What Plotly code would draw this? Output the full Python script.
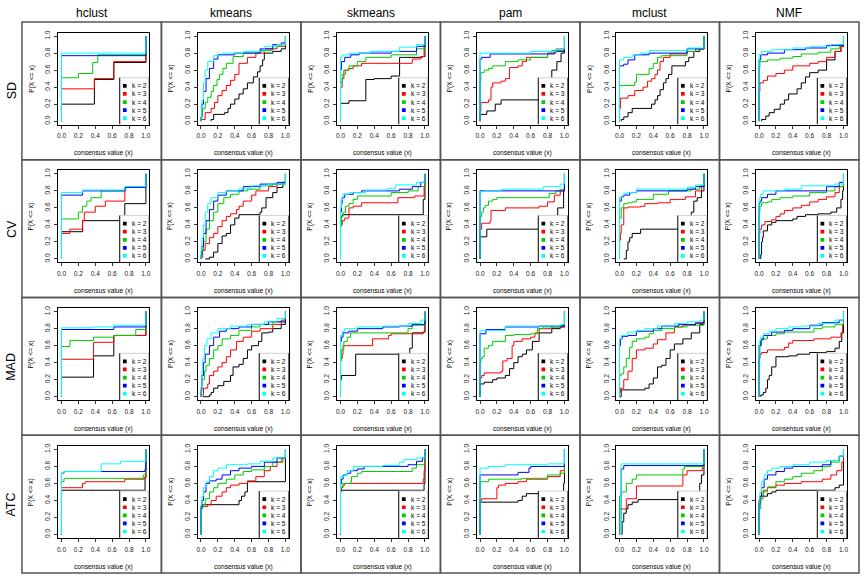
import plotly.graph_objects as go

METHODS = ["hclust", "kmeans", "skmeans", "pam", "mclust", "NMF"]
ROWS = ["SD", "CV", "MAD", "ATC"]
K_LABELS = ["k = 2", "k = 3", "k = 4", "k = 5", "k = 6"]
COLORS = ["#000000", "#FF0000", "#00CD00", "#0000FF", "#00FFFF"]
X_TICKS = [0.0, 0.2, 0.4, 0.6, 0.8, 1.0]
TICK_TEXT = ["0.0", "0.2", "0.4", "0.6", "0.8", "1.0"]

# each curve: list of [x, F(x)] steps (ECDF of consensus values), k = 2..6
SD_hclust = [
    [[0, 0.2], [0.39, 0.49], [0.62, 0.69], [1, 1]],
    [[0, 0.38], [0.39, 0.5], [0.62, 0.7], [1, 1]],
    [[0, 0.51], [0.2, 0.56], [0.37, 0.69], [0.43, 0.78], [1, 1]],
    [[0, 0.77], [1, 1]],
    [[0, 0.8], [1, 1]],
]
SD_kmeans = [
    [[0.12, 0.02], [0.15, 0.08], [0.28, 0.1], [0.32, 0.15], [0.35, 0.2], [0.4, 0.26], [0.45, 0.32], [0.5, 0.38],
     [0.55, 0.45], [0.62, 0.52], [0.67, 0.58], [0.7, 0.65], [0.73, 0.72], [0.75, 0.8], [0.85, 0.82], [0.95, 0.85], [1, 1]],
    [[0, 0.02], [0.05, 0.1], [0.12, 0.15], [0.16, 0.22], [0.2, 0.3], [0.25, 0.36], [0.3, 0.42], [0.35, 0.48],
     [0.4, 0.55], [0.45, 0.68], [0.55, 0.75], [0.65, 0.8], [0.75, 0.85], [0.9, 0.88], [1, 1]],
    [[0, 0.05], [0.02, 0.15], [0.05, 0.22], [0.08, 0.28], [0.12, 0.35], [0.15, 0.42], [0.19, 0.49], [0.22, 0.55],
     [0.26, 0.62], [0.3, 0.68], [0.38, 0.76], [0.5, 0.8], [0.7, 0.83], [0.85, 0.88], [0.95, 0.9], [1, 1]],
    [[0, 0.05], [0.01, 0.2], [0.03, 0.35], [0.06, 0.5], [0.1, 0.62], [0.15, 0.73], [0.2, 0.78], [0.4, 0.8],
     [0.7, 0.85], [0.85, 0.9], [0.95, 0.92], [1, 1]],
    [[0, 0.05], [0.01, 0.25], [0.03, 0.45], [0.05, 0.6], [0.08, 0.7], [0.15, 0.77], [0.25, 0.8], [0.5, 0.82],
     [0.75, 0.88], [0.9, 0.9], [1, 1]],
]
SD_skmeans = [
    [[0, 0.21], [0.1, 0.24], [0.3, 0.49], [0.4, 0.5], [0.6, 0.53], [0.7, 0.75], [0.97, 0.76], [1, 1]],
    [[0, 0.4], [0.02, 0.5], [0.04, 0.6], [0.1, 0.62], [0.15, 0.65], [0.25, 0.68], [0.85, 0.73], [0.95, 0.76], [0.99, 0.9], [1, 1]],
    [[0, 0.45], [0.02, 0.55], [0.06, 0.6], [0.1, 0.65], [0.2, 0.7], [0.3, 0.75], [0.6, 0.78], [0.9, 0.85], [1, 1]],
    [[0, 0.6], [0.01, 0.7], [0.05, 0.75], [0.12, 0.78], [0.22, 0.8], [0.6, 0.82], [0.9, 0.88], [1, 1]],
    [[0, 0.75], [0.02, 0.78], [0.1, 0.8], [0.35, 0.82], [0.7, 0.87], [0.9, 0.9], [1, 1]],
]
SD_pam = [
    [[0, 0.08], [0.08, 0.12], [0.18, 0.2], [0.25, 0.25], [0.8, 0.5], [0.85, 0.6], [0.91, 0.7], [0.96, 0.8], [1, 1]],
    [[0, 0.12], [0.01, 0.22], [0.1, 0.25], [0.13, 0.4], [0.15, 0.45], [0.25, 0.47], [0.3, 0.5], [0.35, 0.63],
     [0.45, 0.65], [0.5, 0.7], [0.55, 0.75], [0.8, 0.8], [0.9, 0.85], [1, 1]],
    [[0, 0.47], [0.01, 0.57], [0.05, 0.6], [0.1, 0.62], [0.15, 0.65], [0.3, 0.7], [0.45, 0.72], [0.6, 0.75],
     [0.8, 0.8], [0.85, 0.83], [1, 1]],
    [[0, 0.73], [0.02, 0.75], [0.12, 0.79], [0.88, 0.82], [1, 1]],
    [[0, 0.8], [0.6, 0.82], [0.9, 0.85], [1, 1]],
]
SD_mclust = [
    [[0.02, 0.02], [0.05, 0.05], [0.1, 0.1], [0.15, 0.15], [0.38, 0.2], [0.42, 0.25], [0.45, 0.3], [0.48, 0.37],
     [0.52, 0.45], [0.55, 0.5], [0.58, 0.55], [0.62, 0.65], [0.78, 0.7], [0.82, 0.75], [0.88, 0.82], [0.95, 0.85], [1, 1]],
    [[0, 0.15], [0.01, 0.27], [0.1, 0.3], [0.18, 0.36], [0.28, 0.4], [0.33, 0.47], [0.38, 0.5], [0.42, 0.55],
     [0.45, 0.6], [0.48, 0.7], [0.52, 0.75], [0.6, 0.79], [0.8, 0.82], [0.9, 0.85], [1, 1]],
    [[0, 0.42], [0.18, 0.46], [0.2, 0.55], [0.35, 0.62], [0.4, 0.68], [0.45, 0.75], [0.5, 0.77], [0.8, 0.82], [0.9, 0.85], [1, 1]],
    [[0, 0.65], [0.05, 0.67], [0.1, 0.72], [0.18, 0.78], [0.35, 0.8], [0.8, 0.85], [1, 1]],
    [[0, 0.72], [0.05, 0.75], [0.15, 0.78], [0.25, 0.8], [0.35, 0.83], [0.8, 0.86], [1, 1]],
]
SD_NMF = [
    [[0.03, 0.02], [0.08, 0.06], [0.12, 0.1], [0.18, 0.14], [0.25, 0.2], [0.3, 0.25], [0.35, 0.32], [0.45, 0.38],
     [0.5, 0.45], [0.55, 0.52], [0.6, 0.57], [0.7, 0.6], [0.8, 0.72], [0.9, 0.82], [0.97, 0.88], [1, 1]],
    [[0, 0.35], [0.01, 0.45], [0.05, 0.48], [0.1, 0.53], [0.2, 0.56], [0.3, 0.6], [0.4, 0.65], [0.6, 0.68],
     [0.7, 0.7], [0.8, 0.75], [0.9, 0.82], [0.97, 0.88], [1, 1]],
    [[0, 0.62], [0.01, 0.7], [0.1, 0.72], [0.25, 0.74], [0.4, 0.76], [0.5, 0.79], [0.7, 0.81], [0.85, 0.85], [0.95, 0.9], [1, 1]],
    [[0, 0.72], [0.02, 0.78], [0.1, 0.8], [0.3, 0.84], [0.55, 0.86], [0.8, 0.89], [1, 1]],
    [[0, 0.78], [0.03, 0.82], [0.15, 0.84], [0.4, 0.86], [0.6, 0.88], [0.85, 0.9], [1, 1]],
]

CV_hclust = [
    [[0, 0.32], [0.25, 0.45], [0.75, 0.65], [1, 1]],
    [[0, 0.3], [0.1, 0.35], [0.25, 0.45], [0.27, 0.55], [0.4, 0.62], [0.52, 0.68], [0.75, 0.8], [0.76, 0.85], [1, 1]],
    [[0, 0.47], [0.2, 0.55], [0.25, 0.62], [0.3, 0.68], [0.35, 0.72], [0.47, 0.8], [0.75, 0.84], [1, 1]],
    [[0, 0.75], [0.25, 0.8], [0.75, 0.84], [1, 1]],
    [[0, 0.78], [0.25, 0.81], [0.75, 0.85], [1, 1]],
]
CV_kmeans = [
    [[0.05, 0.0], [0.1, 0.02], [0.15, 0.08], [0.2, 0.18], [0.25, 0.27], [0.3, 0.3], [0.35, 0.4], [0.4, 0.48],
     [0.45, 0.52], [0.7, 0.55], [0.72, 0.6], [0.77, 0.72], [0.85, 0.78], [0.9, 0.84], [0.97, 0.9], [1, 1]],
    [[0, 0.02], [0.02, 0.1], [0.05, 0.18], [0.1, 0.25], [0.15, 0.3], [0.2, 0.38], [0.25, 0.45], [0.3, 0.5],
     [0.35, 0.53], [0.42, 0.58], [0.45, 0.62], [0.5, 0.68], [0.6, 0.75], [0.65, 0.8], [0.8, 0.85], [0.9, 0.88], [1, 1]],
    [[0, 0.02], [0.01, 0.1], [0.03, 0.2], [0.06, 0.35], [0.1, 0.45], [0.15, 0.55], [0.2, 0.65], [0.27, 0.72],
     [0.35, 0.76], [0.45, 0.8], [0.55, 0.82], [0.7, 0.86], [0.85, 0.88], [1, 1]],
    [[0, 0.05], [0.01, 0.15], [0.03, 0.3], [0.06, 0.45], [0.1, 0.58], [0.15, 0.68], [0.2, 0.75], [0.3, 0.8],
     [0.5, 0.85], [0.7, 0.88], [0.9, 0.9], [1, 1]],
    [[0, 0.1], [0.01, 0.25], [0.03, 0.4], [0.05, 0.55], [0.08, 0.65], [0.12, 0.72], [0.2, 0.78], [0.3, 0.8],
     [0.45, 0.83], [0.6, 0.86], [0.8, 0.88], [1, 1]],
]
CV_skmeans = [
    [[0, 0.4], [0.01, 0.5], [0.02, 0.52], [0.98, 0.7], [1, 1]],
    [[0, 0.4], [0.02, 0.45], [0.05, 0.48], [0.1, 0.6], [0.15, 0.62], [0.25, 0.66], [0.68, 0.72], [0.88, 0.74], [0.99, 0.85], [1, 1]],
    [[0, 0.38], [0.01, 0.5], [0.03, 0.55], [0.06, 0.62], [0.1, 0.65], [0.15, 0.7], [0.2, 0.74], [0.6, 0.78],
     [0.8, 0.8], [0.92, 0.85], [1, 1]],
    [[0, 0.55], [0.01, 0.65], [0.02, 0.72], [0.05, 0.76], [0.15, 0.78], [0.25, 0.8], [0.7, 0.82], [0.85, 0.85], [0.95, 0.9], [1, 1]],
    [[0, 0.6], [0.01, 0.7], [0.03, 0.76], [0.1, 0.78], [0.3, 0.81], [0.55, 0.83], [0.65, 0.87], [0.9, 0.9], [1, 1]],
]
CV_pam = [
    [[0, 0.26], [0.08, 0.35], [0.92, 0.6], [0.99, 0.8], [1, 1]],
    [[0, 0.35], [0.02, 0.42], [0.12, 0.45], [0.13, 0.57], [0.3, 0.6], [0.7, 0.62], [0.8, 0.67], [0.88, 0.75], [0.95, 0.8], [1, 1]],
    [[0, 0.5], [0.02, 0.55], [0.04, 0.6], [0.06, 0.63], [0.1, 0.68], [0.15, 0.7], [0.2, 0.72], [0.82, 0.77],
     [0.9, 0.8], [0.95, 0.82], [1, 1]],
    [[0, 0.8], [1, 1]],
    [[0, 0.79], [0.05, 0.8], [0.25, 0.82], [0.75, 0.85], [0.95, 0.88], [1, 1]],
]
CV_mclust = [
    [[0.05, 0.0], [0.08, 0.1], [0.1, 0.2], [0.12, 0.25], [0.15, 0.3], [0.25, 0.35], [0.85, 0.55], [0.88, 0.68],
     [0.92, 0.72], [0.97, 0.8], [1, 1]],
    [[0, 0.22], [0.01, 0.3], [0.02, 0.4], [0.05, 0.6], [0.1, 0.61], [0.25, 0.62], [0.3, 0.65], [0.45, 0.66],
     [0.6, 0.7], [0.78, 0.73], [0.9, 0.8], [0.97, 0.85], [1, 1]],
    [[0, 0.48], [0.02, 0.6], [0.05, 0.65], [0.1, 0.66], [0.15, 0.67], [0.2, 0.7], [0.4, 0.76], [0.58, 0.8],
     [0.85, 0.82], [0.95, 0.86], [1, 1]],
    [[0, 0.68], [0.02, 0.73], [0.05, 0.75], [0.12, 0.78], [0.2, 0.8], [0.8, 0.82], [0.9, 0.85], [1, 1]],
    [[0, 0.72], [0.02, 0.74], [0.05, 0.77], [0.1, 0.78], [0.2, 0.82], [0.8, 0.84], [0.9, 0.87], [1, 1]],
]
CV_NMF = [
    [[0.02, 0.05], [0.03, 0.2], [0.04, 0.25], [0.05, 0.33], [0.1, 0.4], [0.15, 0.43], [0.2, 0.45], [0.4, 0.47],
     [0.45, 0.5], [0.55, 0.52], [0.7, 0.53], [0.85, 0.55], [0.92, 0.6], [0.97, 0.7], [0.99, 0.8], [1, 1]],
    [[0, 0.3], [0.01, 0.35], [0.03, 0.4], [0.07, 0.44], [0.15, 0.46], [0.2, 0.5], [0.25, 0.53], [0.3, 0.57],
     [0.4, 0.6], [0.5, 0.63], [0.6, 0.67], [0.7, 0.7], [0.8, 0.73], [0.9, 0.78], [0.95, 0.85], [1, 1]],
    [[0, 0.55], [0.01, 0.62], [0.03, 0.66], [0.1, 0.67], [0.15, 0.7], [0.25, 0.72], [0.4, 0.74], [0.6, 0.78],
     [0.8, 0.8], [0.9, 0.85], [1, 1]],
    [[0, 0.65], [0.01, 0.68], [0.03, 0.72], [0.1, 0.76], [0.2, 0.8], [0.8, 0.85], [0.95, 0.9], [1, 1]],
    [[0, 0.72], [0.02, 0.76], [0.05, 0.8], [0.3, 0.82], [0.5, 0.86], [0.9, 0.88], [1, 1]],
]

MAD_hclust = [
    [[0, 0.23], [0.38, 0.48], [0.62, 0.72], [1, 1]],
    [[0, 0.44], [0.38, 0.64], [0.62, 0.72], [1, 1]],
    [[0, 0.59], [0.1, 0.66], [0.38, 0.7], [0.62, 0.72], [0.88, 0.79], [1, 1]],
    [[0, 0.79], [0.62, 0.82], [1, 1]],
    [[0, 0.81], [0.38, 0.82], [0.62, 0.84], [1, 1]],
]
MAD_kmeans = [
    [[0.02, 0.0], [0.1, 0.02], [0.12, 0.05], [0.15, 0.1], [0.2, 0.13], [0.27, 0.18], [0.35, 0.25], [0.38, 0.35],
     [0.45, 0.38], [0.5, 0.45], [0.55, 0.55], [0.6, 0.6], [0.68, 0.65], [0.72, 0.75], [0.8, 0.76], [0.85, 0.8], [0.95, 0.85], [1, 1]],
    [[0, 0.02], [0.03, 0.1], [0.08, 0.15], [0.1, 0.25], [0.15, 0.3], [0.2, 0.35], [0.25, 0.4], [0.3, 0.47],
     [0.35, 0.55], [0.42, 0.65], [0.5, 0.7], [0.6, 0.77], [0.7, 0.8], [0.85, 0.85], [0.95, 0.9], [1, 1]],
    [[0, 0.05], [0.01, 0.2], [0.04, 0.3], [0.06, 0.37], [0.1, 0.45], [0.15, 0.55], [0.2, 0.6], [0.25, 0.68],
     [0.35, 0.72], [0.45, 0.78], [0.6, 0.82], [0.7, 0.85], [0.85, 0.88], [1, 1]],
    [[0, 0.08], [0.01, 0.25], [0.03, 0.4], [0.05, 0.5], [0.1, 0.6], [0.15, 0.7], [0.22, 0.77], [0.3, 0.8],
     [0.45, 0.82], [0.6, 0.85], [0.8, 0.88], [1, 1]],
    [[0, 0.12], [0.01, 0.3], [0.02, 0.45], [0.04, 0.6], [0.07, 0.68], [0.12, 0.75], [0.2, 0.8], [0.35, 0.83],
     [0.55, 0.85], [0.75, 0.88], [0.9, 0.92], [1, 1]],
]
MAD_skmeans = [
    [[0, 0.2], [0.01, 0.25], [0.18, 0.5], [0.82, 0.57], [0.85, 0.75], [0.98, 0.76], [1, 1]],
    [[0, 0.45], [0.02, 0.5], [0.03, 0.6], [0.38, 0.68], [0.57, 0.72], [0.6, 0.74], [0.98, 0.76], [1, 1]],
    [[0, 0.42], [0.01, 0.55], [0.04, 0.65], [0.08, 0.7], [0.12, 0.75], [0.8, 0.8], [0.85, 0.84], [1, 1]],
    [[0, 0.65], [0.01, 0.7], [0.03, 0.75], [0.1, 0.77], [0.2, 0.8], [0.5, 0.82], [0.7, 0.83], [0.85, 0.85], [1, 1]],
    [[0, 0.72], [0.02, 0.77], [0.05, 0.8], [0.2, 0.82], [0.5, 0.83], [0.8, 0.86], [0.95, 0.9], [1, 1]],
]
MAD_pam = [
    [[0, 0.15], [0.05, 0.17], [0.15, 0.2], [0.2, 0.22], [0.3, 0.25], [0.35, 0.33], [0.4, 0.4], [0.45, 0.47],
     [0.5, 0.5], [0.55, 0.55], [0.62, 0.65], [0.7, 0.75], [0.85, 0.8], [0.95, 0.82], [1, 1]],
    [[0, 0.22], [0.02, 0.25], [0.05, 0.28], [0.25, 0.3], [0.27, 0.42], [0.32, 0.45], [0.38, 0.6], [0.4, 0.65],
     [0.5, 0.68], [0.6, 0.7], [0.65, 0.75], [0.7, 0.8], [0.85, 0.82], [1, 1]],
    [[0, 0.4], [0.01, 0.45], [0.03, 0.47], [0.05, 0.57], [0.1, 0.6], [0.15, 0.65], [0.3, 0.72], [0.4, 0.73],
     [0.6, 0.74], [0.68, 0.8], [0.75, 0.82], [0.95, 0.84], [1, 1]],
    [[0, 0.74], [0.07, 0.79], [0.3, 0.82], [0.7, 0.83], [1, 1]],
    [[0, 0.78], [0.3, 0.83], [0.95, 0.85], [1, 1]],
]
MAD_mclust = [
    [[0.0, 0.0], [0.02, 0.08], [0.3, 0.1], [0.35, 0.15], [0.4, 0.22], [0.45, 0.35], [0.5, 0.37], [0.55, 0.45],
     [0.6, 0.55], [0.65, 0.62], [0.75, 0.68], [0.85, 0.75], [0.95, 0.85], [1, 1]],
    [[0, 0.05], [0.01, 0.1], [0.05, 0.2], [0.1, 0.3], [0.15, 0.45], [0.2, 0.55], [0.3, 0.57], [0.4, 0.62],
     [0.45, 0.67], [0.55, 0.75], [0.65, 0.82], [0.75, 0.84], [0.9, 0.86], [1, 1]],
    [[0, 0.25], [0.02, 0.27], [0.05, 0.35], [0.08, 0.45], [0.12, 0.58], [0.15, 0.65], [0.2, 0.68], [0.3, 0.7],
     [0.35, 0.74], [0.4, 0.78], [0.5, 0.8], [0.65, 0.82], [0.8, 0.84], [1, 1]],
    [[0, 0.6], [0.01, 0.68], [0.03, 0.71], [0.1, 0.72], [0.2, 0.77], [0.4, 0.8], [0.5, 0.83], [0.7, 0.85], [0.9, 0.87], [1, 1]],
    [[0, 0.68], [0.02, 0.72], [0.1, 0.76], [0.2, 0.78], [0.3, 0.8], [0.45, 0.83], [0.65, 0.86], [0.8, 0.88], [0.95, 0.9], [1, 1]],
]
MAD_NMF = [
    [[0.02, 0.02], [0.05, 0.05], [0.08, 0.1], [0.1, 0.2], [0.12, 0.25], [0.15, 0.35], [0.2, 0.47], [0.35, 0.48],
     [0.45, 0.5], [0.6, 0.52], [0.8, 0.53], [0.9, 0.57], [0.95, 0.65], [0.98, 0.75], [1, 1]],
    [[0, 0.45], [0.01, 0.5], [0.03, 0.52], [0.1, 0.55], [0.3, 0.58], [0.35, 0.63], [0.4, 0.66], [0.65, 0.68],
     [0.85, 0.7], [0.97, 0.75], [0.99, 0.85], [1, 1]],
    [[0, 0.45], [0.01, 0.6], [0.03, 0.68], [0.1, 0.72], [0.2, 0.74], [0.3, 0.76], [0.65, 0.8], [0.75, 0.82], [0.9, 0.85], [1, 1]],
    [[0, 0.6], [0.02, 0.67], [0.05, 0.72], [0.15, 0.76], [0.3, 0.78], [0.4, 0.8], [0.6, 0.84], [0.75, 0.87], [0.95, 0.9], [1, 1]],
    [[0, 0.66], [0.02, 0.7], [0.05, 0.74], [0.12, 0.77], [0.2, 0.8], [0.35, 0.82], [0.5, 0.83], [0.7, 0.86], [0.9, 0.9], [1, 1]],
]

ATC_hclust = [
    [[0, 0.52], [0.99, 0.67], [1, 1]],
    [[0, 0.55], [0.25, 0.6], [0.28, 0.62], [0.75, 0.65], [0.98, 0.67], [1, 1]],
    [[0, 0.62], [0.03, 0.66], [0.97, 0.7], [1, 1]],
    [[0, 0.72], [0.03, 0.74], [0.99, 0.77], [1, 1]],
    [[0, 0.72], [0.03, 0.74], [0.47, 0.83], [0.7, 0.86], [1, 1]],
]
ATC_kmeans = [
    [[0, 0.33], [0.01, 0.35], [0.45, 0.4], [0.48, 0.45], [0.52, 0.5], [0.55, 0.62], [1, 1]],
    [[0, 0.33], [0.08, 0.35], [0.12, 0.4], [0.18, 0.45], [0.25, 0.5], [0.3, 0.55], [0.35, 0.58], [0.45, 0.6],
     [0.55, 0.63], [0.65, 0.68], [0.75, 0.75], [0.82, 0.8], [0.9, 0.85], [0.97, 0.9], [1, 1]],
    [[0, 0.3], [0.02, 0.35], [0.05, 0.42], [0.1, 0.5], [0.15, 0.55], [0.2, 0.6], [0.3, 0.65], [0.4, 0.7],
     [0.5, 0.74], [0.6, 0.76], [0.75, 0.8], [0.85, 0.85], [0.95, 0.9], [1, 1]],
    [[0, 0.3], [0.01, 0.4], [0.03, 0.5], [0.06, 0.6], [0.1, 0.63], [0.18, 0.65], [0.25, 0.7], [0.35, 0.75],
     [0.45, 0.78], [0.6, 0.8], [0.75, 0.85], [0.9, 0.9], [1, 1]],
    [[0, 0.35], [0.01, 0.45], [0.03, 0.55], [0.06, 0.62], [0.1, 0.68], [0.15, 0.75], [0.2, 0.78], [0.3, 0.82],
     [0.55, 0.83], [0.7, 0.86], [0.85, 0.9], [1, 1]],
]
ATC_skmeans = [
    [[0, 0.52], [0.99, 0.6], [1, 1]],
    [[0, 0.5], [0.01, 0.55], [0.03, 0.58], [0.05, 0.6], [0.98, 0.65], [0.99, 0.75], [1, 1]],
    [[0, 0.55], [0.02, 0.6], [0.12, 0.62], [0.13, 0.68], [0.2, 0.72], [0.25, 0.74], [0.85, 0.78], [0.9, 0.82], [1, 1]],
    [[0, 0.6], [0.01, 0.65], [0.03, 0.7], [0.08, 0.72], [0.12, 0.75], [0.2, 0.77], [0.28, 0.8], [0.8, 0.82],
     [0.9, 0.86], [0.97, 0.9], [1, 1]],
    [[0, 0.68], [0.03, 0.7], [0.08, 0.75], [0.15, 0.8], [0.5, 0.81], [0.7, 0.85], [0.75, 0.88], [0.9, 0.9], [1, 1]],
]
ATC_pam = [
    [[0, 0.38], [0.45, 0.4], [0.5, 0.45], [0.55, 0.48], [0.99, 0.6], [1, 1]],
    [[0, 0.4], [0.02, 0.42], [0.2, 0.55], [0.22, 0.58], [0.3, 0.6], [0.45, 0.62], [0.55, 0.65], [0.8, 0.68], [0.95, 0.75], [1, 1]],
    [[0, 0.62], [0.1, 0.65], [0.5, 0.66], [0.8, 0.7], [0.95, 0.72], [1, 1]],
    [[0, 0.7], [0.45, 0.73], [0.58, 0.78], [0.6, 0.8], [1, 1]],
    [[0, 0.78], [0.1, 0.8], [0.3, 0.82], [0.8, 0.83], [1, 1]],
]
ATC_mclust = [
    [[0.02, 0.0], [0.03, 0.15], [0.05, 0.25], [0.08, 0.3], [0.1, 0.35], [0.15, 0.38], [0.22, 0.41], [0.95, 0.6], [0.97, 0.7], [1, 1]],
    [[0, 0.3], [0.08, 0.42], [0.2, 0.57], [0.75, 0.7], [0.8, 0.75], [0.98, 0.8], [1, 1]],
    [[0, 0.45], [0.02, 0.5], [0.08, 0.6], [0.15, 0.65], [0.2, 0.7], [0.75, 0.77], [0.77, 0.8], [1, 1]],
    [[0.02, 0.77], [0.05, 0.81], [1, 1]],
    [[0.02, 0.83], [1, 1]],
]
ATC_NMF = [
    [[0, 0.4], [0.02, 0.45], [0.1, 0.48], [0.15, 0.5], [0.2, 0.52], [0.9, 0.55], [0.95, 0.58], [1, 1]],
    [[0, 0.38], [0.02, 0.45], [0.05, 0.52], [0.1, 0.55], [0.2, 0.58], [0.3, 0.6], [0.5, 0.62], [0.75, 0.65],
     [0.85, 0.7], [0.92, 0.75], [0.98, 0.85], [1, 1]],
    [[0, 0.3], [0.02, 0.42], [0.05, 0.5], [0.1, 0.56], [0.2, 0.62], [0.3, 0.65], [0.4, 0.68], [0.5, 0.72],
     [0.65, 0.75], [0.75, 0.8], [0.85, 0.85], [0.95, 0.92], [1, 1]],
    [[0, 0.35], [0.01, 0.45], [0.03, 0.55], [0.06, 0.65], [0.1, 0.7], [0.2, 0.74], [0.3, 0.78], [0.4, 0.8],
     [0.75, 0.82], [0.85, 0.87], [0.95, 0.92], [1, 1]],
    [[0, 0.38], [0.01, 0.5], [0.03, 0.62], [0.06, 0.7], [0.1, 0.75], [0.15, 0.78], [0.25, 0.8], [0.4, 0.82],
     [0.6, 0.85], [0.8, 0.87], [0.95, 0.92], [1, 1]],
]

GRID = [
    [SD_hclust, SD_kmeans, SD_skmeans, SD_pam, SD_mclust, SD_NMF],
    [CV_hclust, CV_kmeans, CV_skmeans, CV_pam, CV_mclust, CV_NMF],
    [MAD_hclust, MAD_kmeans, MAD_skmeans, MAD_pam, MAD_mclust, MAD_NMF],
    [ATC_hclust, ATC_kmeans, ATC_skmeans, ATC_pam, ATC_mclust, ATC_NMF],
]

W, H = 864, 576
COL_W, ROW_H = 140.0, 138.25
LEFT0, TOP0 = 21.0, 20.0
FONT = "Liberation Sans, Arial, Helvetica, sans-serif"
SMALL = 6.6

fig = go.Figure()
layout = {}
shapes = []
annotations = []

LEG_Y = [0.415, 0.32, 0.225, 0.13, 0.035]

for r in range(4):
    for c in range(6):
        idx = r * 6 + c + 1
        xn = "x" if idx == 1 else f"x{idx}"
        yn = "y" if idx == 1 else f"y{idx}"
        xk = "xaxis" if idx == 1 else f"xaxis{idx}"
        yk = "yaxis" if idx == 1 else f"yaxis{idx}"
        left = LEFT0 + c * COL_W
        top = TOP0 + r * ROW_H
        px0, px1 = left + 36.3, left + 127.8
        py0, py1 = top + 10.8, top + 103.0
        common = dict(range=[-0.04, 1.04], showline=True, mirror=True, linecolor="black", linewidth=1,
                      ticks="outside", ticklen=3, tickwidth=1, tickcolor="#333",
                      tickvals=X_TICKS, ticktext=TICK_TEXT, showgrid=False, zeroline=False,
                      tickfont=dict(size=SMALL, family=FONT, color="#222"), fixedrange=True)
        layout[xk] = dict(domain=[px0 / W, px1 / W], anchor=yn, ticklabelstandoff=2, **common)
        layout[yk] = dict(domain=[1 - py1 / H, 1 - py0 / H], anchor=xn, tickangle=-90,
                          ticklabelstandoff=1, **common)

        for k, curve in enumerate(GRID[r][c]):
            xs = [curve[0][0]] + [p[0] for p in curve]
            ys = [0.0] + [p[1] for p in curve]
            fig.add_trace(go.Scatter(x=xs, y=ys, mode="lines", xaxis=xn, yaxis=yn,
                                     line=dict(color=COLORS[k], width=1, shape="hv"),
                                     showlegend=False, hoverinfo="skip"))

        # panel border
        shapes.append(dict(type="rect", xref="paper", yref="paper",
                           x0=left / W, x1=(left + COL_W) / W,
                           y0=1 - (top + ROW_H) / H, y1=1 - top / H,
                           line=dict(color="#555555", width=1.5), layer="above"))
        # legend box
        shapes.append(dict(type="rect", xref=xn, yref=yn, x0=0.69, x1=1.04, y0=-0.04, y1=0.51,
                           fillcolor="white", line=dict(width=0), layer="above"))
        shapes.append(dict(type="line", xref=xn, yref=yn, x0=0.69, x1=1.04, y0=0.51, y1=0.51,
                           line=dict(color="#d0d0d0", width=1), layer="above"))
        shapes.append(dict(type="line", xref=xn, yref=yn, x0=0.69, x1=0.69, y0=-0.04, y1=0.51,
                           line=dict(color="black", width=1), layer="above"))
        shapes.append(dict(type="line", xref=xn, yref=yn, x0=1.04, x1=1.04, y0=-0.04, y1=0.51,
                           line=dict(color="black", width=1), layer="above"))
        for k in range(5):
            shapes.append(dict(type="rect", xref=xn, yref=yn,
                               x0=0.75 - 0.022, x1=0.75 + 0.022,
                               y0=LEG_Y[k] - 0.022, y1=LEG_Y[k] + 0.022,
                               fillcolor=COLORS[k], line=dict(width=0), layer="above"))
            annotations.append(dict(xref=xn, yref=yn, x=0.81, y=LEG_Y[k], text=K_LABELS[k],
                                    showarrow=False, xanchor="left", yanchor="middle",
                                    font=dict(size=SMALL, family=FONT, color="black")))
        # axis titles
        annotations.append(dict(xref="paper", yref="paper", x=(px0 + px1) / 2 / W, y=1 - (py1 + 29) / H,
                                text="consensus value (x)", showarrow=False, xanchor="center", yanchor="middle",
                                font=dict(size=SMALL, family=FONT, color="black")))
        annotations.append(dict(xref="paper", yref="paper", x=(px0 - 27) / W, y=1 - (py0 + py1) / 2 / H,
                                text="P(X <= x)", showarrow=False, xanchor="center", yanchor="middle",
                                textangle=-90, font=dict(size=SMALL, family=FONT, color="black")))

for c, m in enumerate(METHODS):
    annotations.append(dict(xref="paper", yref="paper", x=(LEFT0 + c * COL_W + COL_W / 2) / W, y=1 - 11.5 / H,
                            text=m, showarrow=False, xanchor="center", yanchor="middle",
                            font=dict(size=12, family=FONT, color="black")))
for r, name in enumerate(ROWS):
    annotations.append(dict(xref="paper", yref="paper", x=10.5 / W, y=1 - (TOP0 + r * ROW_H + ROW_H / 2) / H,
                            text=name, showarrow=False, xanchor="center", yanchor="middle", textangle=-90,
                            font=dict(size=12.5, family=FONT, color="black")))

fig.update_layout(width=W, height=H, margin=dict(l=0, r=0, t=0, b=0),
                  paper_bgcolor="white", plot_bgcolor="white",
                  shapes=shapes, annotations=annotations, **layout)
# remove the default page margin so the 864x576 figure fills the window exactly
fig.write_html("out.html", config={"displayModeBar": False},
               post_script="document.body.style.margin='0px';")
